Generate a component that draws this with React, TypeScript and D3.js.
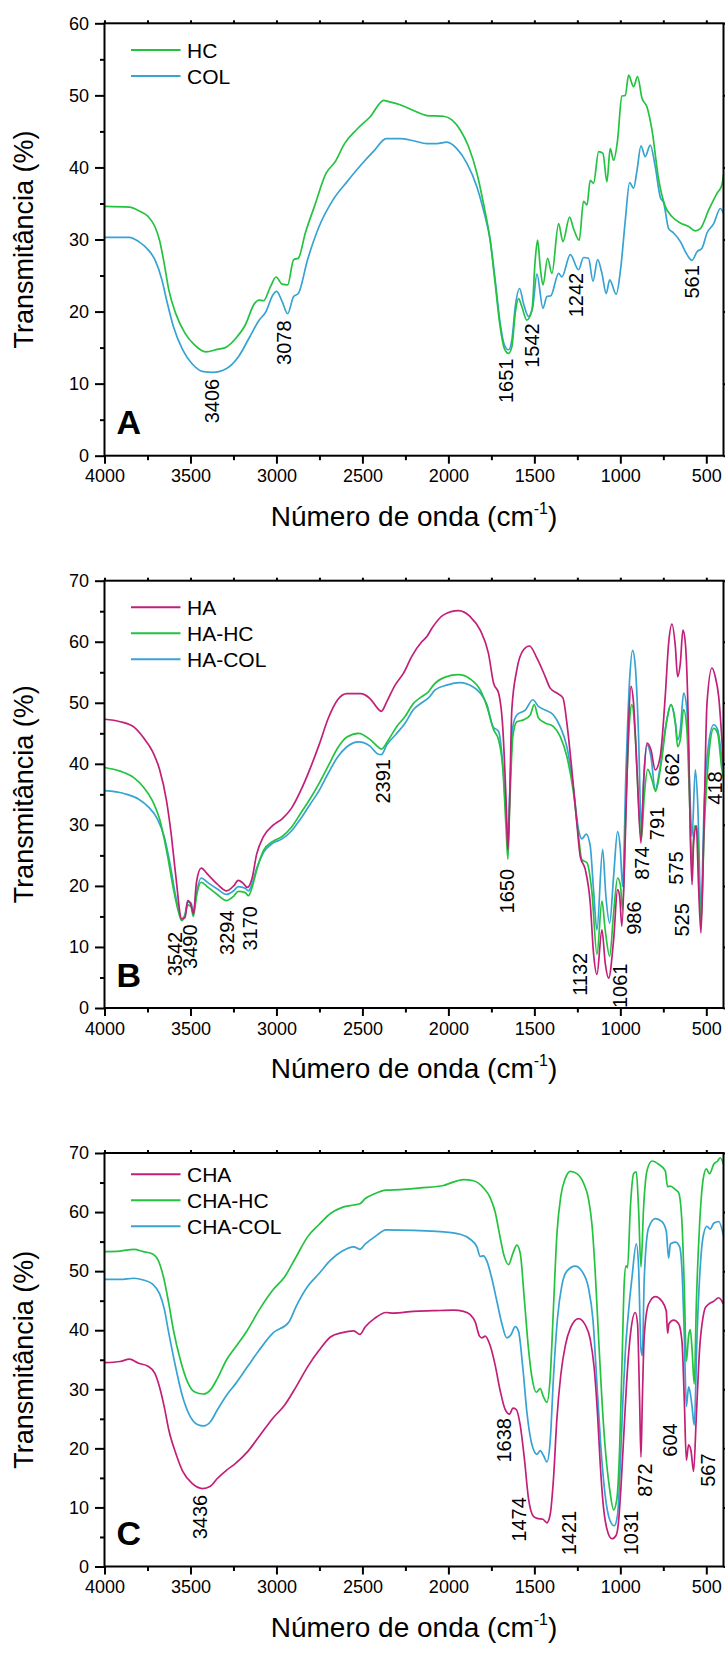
import React, { useEffect, useRef } from "react";
import * as d3 from "d3";

type Pt = [number, number];

const GREEN = "#23c23f";
const BLUE = "#36a3d3";
const MAGENTA = "#c21f78";
const FONT = "Liberation Sans, Arial, Helvetica, sans-serif";

// ---- panel A ----
const HC: Pt[] = [[4000,34.6],[3855,34.5],[3801,34.0],[3747,33.2],[3707,31.8],[3680,29.9],[3653,26.7],[3626,23.0],[3586,19.75],[3532,17.0],[3478,15.4],[3411,14.4],[3344,14.75],[3290,15.1],[3236,16.3],[3182,18.1],[3128,21.1],[3101,21.6],[3075,21.5],[3034,23.5],[3002,24.8],[2967,23.8],[2935,23.7],[2900,27.2],[2873,27.4],[2832,30.9],[2779,34.6],[2711,39.2],[2658,40.8],[2604,43.3],[2536,45.2],[2456,47.0],[2375,49.3],[2358,49.2],[2281,48.7],[2203,47.9],[2125,47.2],[2028,47.1],[1980,46.6],[1931,45.2],[1883,42.9],[1834,39.2],[1796,35.0],[1757,29.9],[1728,23.9],[1699,17.9],[1675,14.9],[1650,14.2],[1631,15.1],[1611,19.8],[1592,21.8],[1573,20.7],[1544,18.8],[1514,20.2],[1495,27.2],[1481,29.9],[1466,26.2],[1450,23.7],[1423,27.4],[1398,25.3],[1359,32.2],[1334,29.7],[1295,33.1],[1272,31.5],[1239,29.9],[1214,35.3],[1194,34.8],[1175,38.2],[1156,37.8],[1126,42.2],[1101,41.95],[1078,38.0],[1059,42.6],[1039,41.0],[1016,43.8],[991,49.9],[971,50.0],[952,52.8],[923,51.2],[900,52.6],[874,49.6],[845,48.4],[816,45.2],[777,38.3],[739,34.6],[700,33.2],[651,32.3],[603,31.8],[564,31.2],[535,31.5],[486,34.1],[438,36.4],[409,37.6],[400,39.0]];
const COL: Pt[] = [[4000,30.3],[3855,30.3],[3801,29.7],[3747,28.6],[3707,27.2],[3666,24.4],[3639,21.6],[3599,17.9],[3545,14.7],[3492,12.8],[3424,11.66],[3370,11.56],[3290,12.1],[3222,13.7],[3155,16.5],[3101,18.8],[3061,20.0],[3021,22.3],[2999,22.8],[2967,21.4],[2935,19.7],[2900,22.1],[2873,22.5],[2819,27.2],[2752,31.8],[2671,35.5],[2590,38.0],[2510,40.3],[2429,42.4],[2362,44.0],[2281,44.0],[2203,43.7],[2125,43.3],[2067,43.3],[2009,43.5],[1951,42.6],[1893,40.6],[1834,37.3],[1796,34.1],[1757,29.9],[1728,24.4],[1699,18.4],[1675,15.4],[1650,14.7],[1631,16.05],[1611,20.7],[1586,23.2],[1563,21.1],[1534,19.3],[1509,20.7],[1485,25.2],[1450,20.45],[1427,22.1],[1404,22.2],[1359,25.3],[1340,24.8],[1291,27.9],[1243,25.8],[1214,27.5],[1185,27.4],[1159,24.2],[1132,27.2],[1107,25.3],[1082,22.5],[1062,24.4],[1024,22.4],[997,26.2],[971,32.7],[946,37.9],[923,37.1],[903,39.6],[880,43.0],[855,41.5],[826,43.1],[797,40.1],[768,35.9],[748,35.1],[719,31.5],[690,30.9],[651,29.7],[612,27.9],[583,27.1],[554,28.3],[525,28.8],[496,30.9],[457,32.2],[418,34.3],[400,33.6]];

// ---- panel B ----
const HA: Pt[] = [[4000,47.3],[3909,46.9],[3828,46.0],[3774,44.3],[3720,42.0],[3680,39.1],[3639,33.9],[3613,28.7],[3586,21.8],[3551,14.6],[3532,14.8],[3516,17.6],[3497,16.9],[3483,15.4],[3465,20.6],[3438,22.9],[3397,21.8],[3344,20.3],[3290,19.2],[3249,20.0],[3222,20.9],[3196,20.5],[3169,19.75],[3142,21.2],[3115,25.2],[3075,28.1],[3021,29.9],[2967,31.0],[2913,32.7],[2859,35.6],[2806,39.1],[2752,43.1],[2698,47.5],[2644,50.5],[2590,51.5],[2510,51.5],[2456,50.7],[2402,48.8],[2390,48.6],[2358,50.2],[2310,52.9],[2261,54.85],[2213,57.6],[2155,60.0],[2125,60.85],[2096,62.2],[2028,64.4],[1941,65.1],[1873,64.1],[1815,61.9],[1767,58.1],[1737,53.2],[1708,51.6],[1683,45.6],[1664,33.6],[1654,25.9],[1644,33.6],[1631,48.9],[1602,55.4],[1563,58.7],[1528,59.3],[1485,57.3],[1437,54.3],[1408,52.4],[1369,51.6],[1334,50.8],[1311,46.7],[1282,39.0],[1253,30.3],[1233,24.8],[1204,22.7],[1175,17.2],[1156,9.0],[1136,5.5],[1107,12.8],[1088,7.4],[1068,4.9],[1039,11.2],[1016,19.4],[1004,18.3],[991,13.4],[971,28.1],[952,46.7],[938,52.7],[923,49.9],[903,39.0],[880,27.0],[865,36.8],[845,43.4],[822,42.3],[797,39.0],[768,41.2],[739,51.0],[719,59.8],[700,62.9],[680,59.2],[667,54.3],[651,56.5],[636,61.9],[622,59.8],[603,44.5],[593,28.1],[583,20.2],[574,27.0],[558,29.8],[545,19.9],[531,12.3],[515,28.1],[496,49.9],[467,55.7],[448,54.3],[428,51.0],[400,39.6]];
const HA_HC: Pt[] = [[4000,39.4],[3909,38.8],[3828,37.7],[3774,36.2],[3720,33.9],[3680,31.0],[3639,25.8],[3599,19.5],[3572,16.0],[3551,14.3],[3532,15.1],[3516,16.9],[3497,16.6],[3483,15.0],[3465,18.3],[3438,20.6],[3397,19.75],[3344,18.6],[3290,17.6],[3249,18.3],[3222,19.1],[3182,18.9],[3163,18.4],[3142,19.75],[3115,22.6],[3075,25.8],[3021,27.3],[2967,28.1],[2913,29.6],[2859,31.9],[2806,34.2],[2752,36.8],[2698,39.7],[2644,42.6],[2590,44.4],[2523,45.0],[2456,44.0],[2410,42.8],[2390,42.4],[2349,43.9],[2300,46.1],[2251,47.8],[2203,49.9],[2155,51.0],[2116,51.8],[2087,52.9],[2019,54.2],[1941,54.6],[1873,53.9],[1815,52.1],[1776,49.4],[1737,45.6],[1708,43.9],[1683,39.0],[1664,29.2],[1654,24.4],[1644,32.5],[1625,44.5],[1602,46.9],[1563,47.2],[1524,48.0],[1501,49.7],[1476,47.5],[1437,46.7],[1389,46.1],[1350,44.5],[1311,41.2],[1272,35.2],[1243,28.1],[1224,24.3],[1194,23.8],[1165,18.9],[1136,8.8],[1107,17.5],[1088,12.8],[1062,8.5],[1039,15.6],[1016,21.3],[1000,20.2],[987,16.1],[967,33.6],[946,47.2],[933,49.7],[913,44.5],[894,33.6],[878,27.6],[861,34.7],[841,39.1],[816,37.4],[795,35.5],[768,39.0],[729,47.2],[706,49.7],[680,46.7],[667,42.8],[651,44.0],[632,48.9],[613,45.6],[597,33.6],[583,22.4],[570,29.8],[554,29.8],[531,13.9],[512,29.2],[486,41.2],[457,45.8],[434,45.0],[409,39.0],[400,37.7]];
const HA_COL: Pt[] = [[4000,35.6],[3882,35.1],[3801,34.2],[3747,33.0],[3693,31.0],[3653,28.1],[3618,23.5],[3586,18.3],[3551,14.6],[3532,15.3],[3516,17.4],[3497,17.2],[3483,15.7],[3465,18.9],[3438,21.3],[3397,20.5],[3344,19.5],[3290,18.6],[3249,19.2],[3222,19.9],[3182,19.6],[3163,19.2],[3142,20.3],[3115,22.9],[3075,25.5],[3021,27.0],[2967,27.7],[2913,29.0],[2859,31.0],[2806,33.3],[2752,35.6],[2698,38.5],[2644,41.1],[2590,42.8],[2523,43.6],[2456,42.9],[2410,41.6],[2390,41.5],[2358,43.1],[2300,45.0],[2251,46.7],[2203,48.9],[2155,50.0],[2116,50.8],[2077,52.1],[2009,52.9],[1931,53.3],[1863,52.7],[1815,51.6],[1776,49.7],[1741,46.1],[1708,45.3],[1683,39.6],[1664,31.4],[1654,27.0],[1644,34.7],[1625,46.1],[1602,48.0],[1553,48.8],[1509,50.5],[1476,49.4],[1437,48.8],[1389,48.0],[1350,46.1],[1311,42.8],[1276,36.8],[1243,29.2],[1224,27.7],[1198,28.5],[1175,26.5],[1156,19.4],[1136,12.8],[1103,26.0],[1084,18.3],[1062,13.9],[1039,21.6],[1016,28.9],[1000,26.0],[987,19.9],[967,39.0],[946,53.8],[929,58.6],[913,56.0],[894,44.5],[878,29.2],[861,39.0],[845,43.1],[822,41.2],[797,35.8],[768,39.6],[733,46.7],[706,49.7],[680,46.7],[667,43.9],[651,45.6],[632,51.6],[613,48.9],[597,36.3],[583,28.1],[564,39.0],[550,33.6],[531,16.1],[512,33.6],[486,43.4],[457,46.4],[434,45.6],[409,40.7],[400,39.0]];

// ---- panel C ----
const CHA: Pt[] = [[4000,34.5],[3909,34.7],[3855,35.1],[3801,34.4],[3747,33.9],[3707,32.7],[3680,30.4],[3653,27.1],[3626,23.1],[3586,19.2],[3545,16.1],[3492,14.1],[3430,13.2],[3384,13.6],[3344,14.9],[3290,16.3],[3236,17.5],[3169,19.4],[3101,22.0],[3021,25.1],[2953,27.3],[2886,30.4],[2819,33.8],[2752,36.6],[2684,38.9],[2617,39.6],[2550,39.9],[2515,39.3],[2483,40.6],[2429,42.0],[2362,43.0],[2319,42.9],[2203,43.2],[2087,43.3],[1970,43.4],[1912,43.2],[1873,42.65],[1844,41.4],[1819,39.0],[1805,38.7],[1786,39.0],[1757,37.4],[1728,34.1],[1699,29.8],[1670,26.6],[1644,25.8],[1625,26.8],[1606,26.6],[1582,23.9],[1559,18.5],[1534,11.5],[1505,8.5],[1476,8.1],[1450,8.0],[1427,7.4],[1408,8.8],[1388,15.2],[1369,25.0],[1346,32.5],[1320,37.4],[1291,40.3],[1243,41.95],[1204,40.9],[1175,38.45],[1152,33.6],[1132,25.5],[1117,17.4],[1101,10.9],[1078,6.35],[1049,4.7],[1024,5.3],[1010,7.7],[997,13.1],[977,23.9],[958,33.6],[938,40.1],[913,43.0],[900,41.1],[888,28.2],[880,18.5],[872,28.2],[861,39.0],[836,44.4],[797,45.7],[758,44.9],[733,43.3],[725,39.5],[717,41.1],[690,41.7],[661,41.1],[641,37.9],[628,28.2],[616,18.0],[603,20.6],[589,19.6],[574,16.1],[558,25.5],[539,36.8],[519,42.2],[506,43.8],[486,44.4],[457,44.9],[428,45.5],[400,44.4]];
const CHA_HC: Pt[] = [[4000,53.3],[3909,53.4],[3828,53.7],[3774,53.3],[3720,52.9],[3680,51.3],[3653,48.5],[3626,44.5],[3599,40.0],[3559,35.0],[3518,31.3],[3478,29.6],[3424,29.2],[3384,29.9],[3344,31.8],[3290,35.0],[3236,37.2],[3169,40.0],[3101,43.4],[3021,46.8],[2953,49.0],[2886,52.4],[2819,55.8],[2752,57.9],[2684,59.8],[2617,60.8],[2550,61.2],[2515,61.4],[2483,62.3],[2429,63.1],[2362,63.7],[2281,63.8],[2164,64.1],[2028,64.5],[1990,64.9],[1912,65.5],[1854,65.3],[1796,64.1],[1757,62.45],[1728,60.0],[1699,55.7],[1675,52.5],[1650,51.1],[1625,53.0],[1602,54.4],[1582,53.0],[1559,45.5],[1534,36.8],[1514,32.0],[1489,29.5],[1466,30.1],[1447,28.7],[1427,27.8],[1408,32.0],[1388,44.4],[1369,56.2],[1346,62.7],[1320,65.7],[1291,66.9],[1253,66.5],[1214,64.9],[1185,62.2],[1165,57.9],[1146,49.8],[1127,39.0],[1107,28.2],[1088,20.1],[1062,13.1],[1039,9.6],[1020,11.5],[1004,20.1],[991,33.6],[977,48.2],[967,50.9],[958,50.6],[942,60.6],[923,66.5],[907,66.8],[894,60.6],[880,50.7],[865,60.6],[845,67.0],[816,68.65],[777,68.1],[739,67.0],[725,64.3],[709,64.4],[680,63.8],[661,63.3],[641,57.9],[628,47.1],[616,34.7],[603,39.0],[593,40.1],[583,36.8],[570,30.9],[558,44.4],[539,57.9],[519,65.4],[500,67.3],[481,66.5],[457,68.1],[434,68.65],[419,69.2],[400,68.1]];
const CHA_COL: Pt[] = [[4000,48.6],[3909,48.6],[3828,48.8],[3774,48.5],[3720,47.8],[3680,46.2],[3653,43.7],[3626,39.5],[3591,34.4],[3551,29.3],[3505,25.6],[3457,24.0],[3424,23.8],[3384,24.5],[3344,26.5],[3290,29.0],[3236,31.0],[3169,33.8],[3101,36.6],[3021,39.5],[2927,41.4],[2886,44.0],[2819,47.4],[2752,49.6],[2684,51.9],[2617,53.4],[2550,54.1],[2515,53.7],[2483,54.6],[2429,55.8],[2362,57.0],[2203,56.9],[2048,56.7],[1931,56.25],[1873,55.4],[1834,54.1],[1815,52.5],[1796,52.6],[1776,51.7],[1747,48.7],[1718,44.9],[1689,41.1],[1660,38.7],[1637,39.2],[1611,40.6],[1592,39.8],[1567,33.6],[1543,26.0],[1514,20.6],[1485,19.0],[1466,19.6],[1447,18.8],[1427,17.7],[1408,21.2],[1388,32.5],[1365,42.2],[1340,47.6],[1311,50.0],[1262,50.85],[1224,50.0],[1185,47.1],[1159,41.7],[1136,30.9],[1113,20.1],[1088,12.0],[1059,7.7],[1035,6.9],[1016,8.8],[1000,17.4],[985,28.2],[971,36.3],[952,43.3],[933,48.7],[907,54.6],[894,50.85],[880,36.8],[872,35.7],[861,48.7],[836,57.3],[797,58.9],[758,58.4],[733,56.8],[719,52.2],[709,54.6],[680,54.9],[655,54.1],[641,49.8],[628,39.0],[616,27.1],[603,30.4],[593,29.3],[583,27.1],[570,23.9],[554,39.0],[535,50.85],[516,56.25],[496,57.6],[477,57.1],[457,58.1],[428,58.4],[400,56.0]];

// tick values
const xMajor = [4000, 3500, 3000, 2500, 2000, 1500, 1000, 500];
const xMinor = [3750, 3250, 2750, 2250, 1750, 1250, 750];
const yMajorA = [0, 10, 20, 30, 40, 50, 60];
const yMinorA = [5, 15, 25, 35, 45, 55];
const yMajorBC = [0, 10, 20, 30, 40, 50, 60, 70];
const yMinorBC = [5, 15, 25, 35, 45, 55, 65];

// peak annotations: label, wavenumber / transmittance where the text starts
const peaksA: [string, number, number][] = [["3406",3376,4.5],["3078",2954,12.6],["1651",1663,7.3],["1542",1514,12.2],["1242",1256,19.2],["561",584,21.8]];
const peaksB: [string, number, number][] = [["3542",3591,5.2],["3490",3500,6.4],["3294",3290,8.7],["3170",3155,9.4],["2391",2381,33.5],["1650",1660,15.5],["1132",1233,2.0],["1061",1003,0],["986",923,12.0],["874",874,21.0],["791",787,27.5],["662",700,36.3],["575",675,20.2],["525",641,11.7],["418",448,33.3]];
const peaksC: [string, number, number][] = [["3436",3446,4.6],["1638",1676,17.6],["1474",1590,4.2],["1421",1299,1.9],["1031",936,1.9],["872",855,11.8],["604",713,18.6],["567",492,13.5]];

const LEFT = 104.5;
const RIGHT = 723.5;

const panels = [
  { top: 23.3, bottom: 455.7, yMax: 60, yMajor: yMajorA, yMinor: yMinorA, letter: "A", legendTop: 50,
    series: [{ name: "HC", data: HC, color: GREEN }, { name: "COL", data: COL, color: BLUE }], peaks: peaksA },
  { top: 580.7, bottom: 1008, yMax: 70, yMajor: yMajorBC, yMinor: yMinorBC, letter: "B", legendTop: 607.3,
    series: [{ name: "HA", data: HA, color: MAGENTA }, { name: "HA-HC", data: HA_HC, color: GREEN }, { name: "HA-COL", data: HA_COL, color: BLUE }], peaks: peaksB },
  { top: 1153, bottom: 1566.5, yMax: 70, yMajor: yMajorBC, yMinor: yMinorBC, letter: "C", legendTop: 1174.3,
    series: [{ name: "CHA", data: CHA, color: MAGENTA }, { name: "CHA-HC", data: CHA_HC, color: GREEN }, { name: "CHA-COL", data: CHA_COL, color: BLUE }], peaks: peaksC },
];

function Spectra() {
  const svgRef = useRef<SVGSVGElement>(null);

  useEffect(() => {
    const svg = d3.select(svgRef.current);
    svg.selectAll("*").remove();

    panels.forEach((p, pi) => {
      const x = d3.scaleLinear().domain([4000, 400]).range([LEFT, RIGHT]);
      const y = d3.scaleLinear().domain([0, p.yMax]).range([p.bottom, p.top]);
      const g = svg.append("g").attr("font-family", FONT);

      const clipId = `clip-${pi}`;
      g.append("clipPath").attr("id", clipId)
        .append("rect").attr("x", LEFT).attr("y", p.top).attr("width", RIGHT - LEFT).attr("height", p.bottom - p.top);

      const line = d3.line<Pt>().x(d => x(d[0])).y(d => y(d[1])).curve(d3.curveMonotoneX);

      // spectra, last legend entry drawn first so the first one sits on top
      p.series.slice().reverse().forEach(s => {
        g.append("path").datum(s.data)
          .attr("clip-path", `url(#${clipId})`)
          .attr("fill", "none").attr("stroke", s.color).attr("stroke-width", 1.7)
          .attr("stroke-linejoin", "round")
          .attr("d", line);
      });

      // axes
      const bottomAxis = g.append("g").attr("transform", `translate(0,${p.bottom})`)
        .call(d3.axisBottom(x).tickValues(xMajor).tickSize(8).tickPadding(6).tickSizeOuter(0).tickFormat(d3.format("d")));
      g.append("g").attr("transform", `translate(0,${p.bottom})`)
        .call(d3.axisBottom(x).tickValues(xMinor).tickSize(4.5).tickSizeOuter(0).tickFormat(() => ""));
      const leftAxis = g.append("g").attr("transform", `translate(${LEFT},0)`)
        .call(d3.axisLeft(y).tickValues(p.yMajor).tickSize(9.5).tickPadding(6).tickSizeOuter(0));
      g.append("g").attr("transform", `translate(${LEFT},0)`)
        .call(d3.axisLeft(y).tickValues(p.yMinor).tickSize(4.5).tickSizeOuter(0).tickFormat(() => ""));
      g.append("g").attr("transform", `translate(0,${p.top})`)
        .call(d3.axisTop(x).tickValues([...xMajor, ...xMinor]).tickSize(3).tickSizeOuter(0).tickFormat(() => ""));
      g.append("g").attr("transform", `translate(${RIGHT},0)`)
        .call(d3.axisRight(y).tickValues(p.yMajor).tickSize(3).tickSizeOuter(0).tickFormat(() => ""));

      g.selectAll(".domain").remove();
      g.selectAll(".tick line").attr("stroke", "#000").attr("stroke-width", 2);
      bottomAxis.selectAll("text").attr("font-size", 18).attr("font-family", FONT).attr("fill", "#000");
      leftAxis.selectAll("text").attr("font-size", 18).attr("font-family", FONT).attr("fill", "#000");

      g.append("rect").attr("x", LEFT).attr("y", p.top)
        .attr("width", RIGHT - LEFT).attr("height", p.bottom - p.top)
        .attr("fill", "none").attr("stroke", "#000").attr("stroke-width", 2);

      // axis titles
      g.append("text")
        .attr("transform", `translate(24,${(p.top + p.bottom) / 2}) rotate(-90)`)
        .attr("text-anchor", "middle").attr("dominant-baseline", "central")
        .attr("font-size", 27).text("Transmitância (%)");

      const xt = g.append("text").attr("x", (LEFT + RIGHT) / 2).attr("y", p.bottom + 70)
        .attr("text-anchor", "middle").attr("font-size", 28);
      xt.append("tspan").text("Número de onda (cm");
      xt.append("tspan").attr("font-size", 16).attr("dy", -12).text("-1");
      xt.append("tspan").attr("dy", 12).text(")");

      // legend
      p.series.forEach((s, i) => {
        const ly = p.legendTop + i * 26;
        g.append("line").attr("x1", 131).attr("x2", 180.5).attr("y1", ly).attr("y2", ly)
          .attr("stroke", s.color).attr("stroke-width", 2);
        g.append("text").attr("x", 187).attr("y", ly).attr("dominant-baseline", "central")
          .attr("font-size", 21).text(s.name);
      });

      // peak labels
      p.peaks.forEach(([label, w, t]) => {
        g.append("text")
          .attr("transform", `translate(${x(w)},${y(t)}) rotate(-90)`)
          .attr("text-anchor", "start").attr("dominant-baseline", "central")
          .attr("font-size", 20).text(label);
      });

      g.append("text").attr("x", LEFT + 12).attr("y", p.bottom - 21.5)
        .attr("font-size", 34).attr("font-weight", "bold").text(p.letter);
    });
  }, []);

  return <svg ref={svgRef} width={725} height={1666} style={{ display: "block" }} />;
}

export default function App() {
  return (
    <div style={{ position: "absolute", left: 0, top: 0, background: "#fff" }}>
      <Spectra />
    </div>
  );
}
